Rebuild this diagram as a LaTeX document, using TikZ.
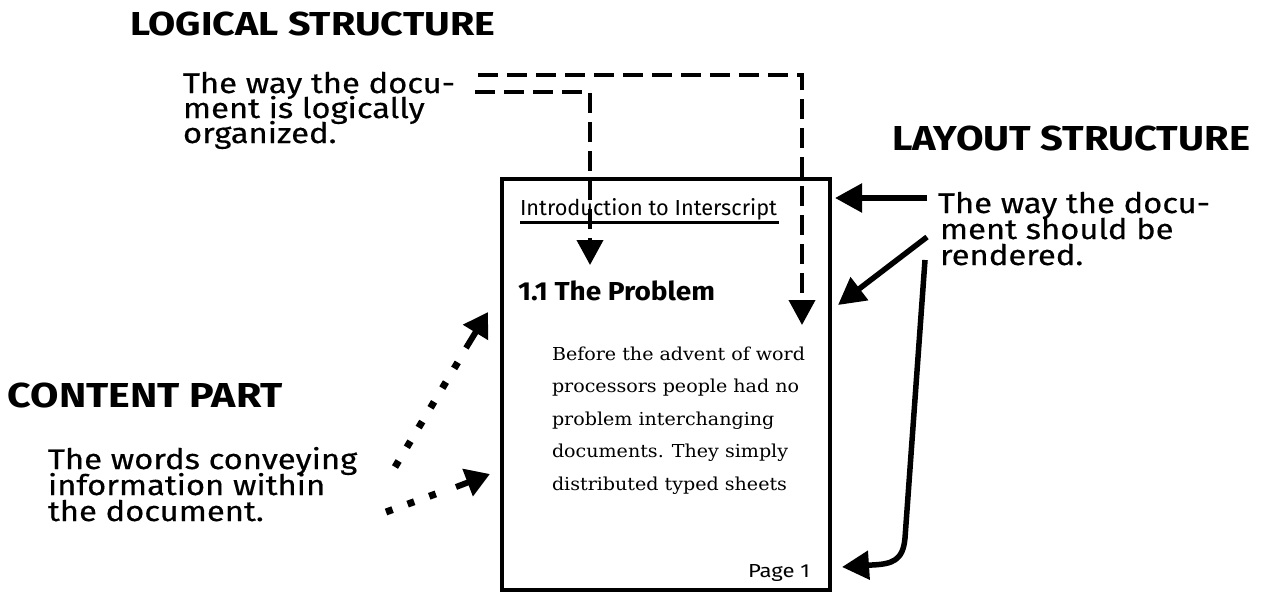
\documentclass[tikz,border=0pt]{standalone}
\usepackage{fontspec}
\setmainfont{Fira Sans}
\newfontfamily\serfont{DejaVu Serif}
\newfontfamily\dscfam[FakeBold=0.4]{Fira Sans}
\usetikzlibrary{arrows.meta}
\newlength\fitw
\newlength\fith
\newcommand\calcfit[6]{\settowidth\fitw{#3#4}\settoheight\fith{#3H}\pgfmathsetmacro#1{#5/\fitw}\pgfmathsetmacro#2{#6/\fith}}
\newcommand\ttlF{\fontsize{34}{34}\selectfont\bfseries}
\newcommand\dscF{\dscfam\fontsize{30}{30}\selectfont}
\newcommand\hdrF{\fontsize{22}{22}\selectfont}
\newcommand\secF{\fontsize{26}{26}\selectfont\bfseries}
\newcommand\bodyF{\serfont\fontsize{18}{18}\selectfont}
\newcommand\pgF{\fontsize{19}{19}\selectfont}
\newcommand\DL[1]{\scalebox{\sxd}[\syd]{\dscF #1}}
\newcommand\BL[1]{\scalebox{\sxb}[\syb]{\bodyF #1}}
\begin{document}%
\calcfit{\sxa}{\sya}{\ttlF}{LOGICAL STRUCTURE}{365}{23}%
\calcfit{\sxl}{\syl}{\ttlF}{LAYOUT STRUCTURE}{358}{24}%
\calcfit{\sxc}{\syc}{\ttlF}{CONTENT PART}{275}{24}%
\calcfit{\sxd}{\syd}{\dscF}{The way the docu-}{272}{19.5}%
\calcfit{\sxh}{\syh}{\hdrF}{Introduction to Interscript}{257}{15}%
\calcfit{\sxs}{\sys}{\secF}{1.1 The Problem}{197}{18}%
\calcfit{\sxb}{\syb}{\bodyF}{Before the advent of word}{253}{13}%
\calcfit{\sxp}{\syp}{\pgF}{Page 1}{62}{13}%
\begin{tikzpicture}[x=1pt,y=-1pt,
  txt/.style={inner sep=0pt,outer sep=0pt,anchor=base west},
  logic/.style={line width=4pt,dash pattern=on 20pt off 9pt,line join=miter,
    -{Triangle[length=25pt,width=26pt]}},
  layarr/.style={line width=5.5pt,line join=round,-{Triangle[length=27pt,width=28pt]}},
  dots/.style={line width=7pt,dash pattern=on 7pt off 16pt,line cap=butt},
  dotshead/.style={line width=6pt,-{Triangle[length=24pt,width=28pt]}}]
\useasboundingbox (0,0) rectangle (1263,594);
% titles
\node[txt] (tlog) at (130,36) {\scalebox{\sxa}[\sya]{\ttlF LOGICAL STRUCTURE}};
\node[txt] (tlay) at (892,150) {\scalebox{\sxl}[\syl]{\ttlF LAYOUT STRUCTURE}};
\node[txt] (tcon) at (8,407) {\scalebox{\sxc}[\syc]{\ttlF CONTENT PART}};
% descriptions
\node[txt] (lg1) at (183,93) {\DL{The way the docu-}};
\node[txt] (lg2) at (183,118) {\DL{ment is logically}};
\node[txt] (lg3) at (183,143) {\DL{organized.}};
\node[txt] (ly1) at (938,213) {\DL{The way the docu-}};
\node[txt] (ly2) at (940,239) {\DL{ment should be}};
\node[txt] (ly3) at (940,265) {\DL{rendered.}};
\node[txt] (ct1) at (48,469) {\DL{The words conveying}};
\node[txt] (ct2) at (48,495) {\DL{information within}};
\node[txt] (ct3) at (48,521) {\DL{the document.}};
% page
\node[draw,line width=4pt,inner sep=0pt,minimum width=328pt,minimum height=411pt,anchor=north west] (page) at (500,177) {};
\node[txt] (hdr) at (520,215) {\scalebox{\sxh}[\syh]{\hdrF Introduction to Interscript}};
\draw[line width=3pt] (520,222) -- (779,222);
\node[txt] (sec) at (518,300) {\scalebox{\sxs}[\sys]{\secF 1.1 The Problem}};
\node[txt] (b1) at (552,360) {\BL{Before the advent of word}};
\node[txt] (b2) at (552,392.5) {\BL{processors people had no}};
\node[txt] (b3) at (552,425) {\BL{problem interchanging}};
\node[txt] (b4) at (552,457.5) {\BL{documents. They simply}};
\node[txt] (b5) at (552,490) {\BL{distributed typed sheets}};
\node[inner sep=0pt,outer sep=0pt,anchor=base east] (pg) at (810,577) {\scalebox{\sxp}[\syp]{\pgF Page 1}};
% logical structure arrows
\coordinate (lsA) at (475,92);
\coordinate (lsB) at (478,75);
\coordinate (hA) at (590,265);
\coordinate (hB) at (802,325);
\draw[logic] (lsA) -| (hA);
\draw[logic] (lsB) -| (hB);
% layout structure arrows
\coordinate (la1) at (927,198);
\coordinate (la1t) at (835,198);
\coordinate (la2) at (927,237);
\coordinate (la2t) at (838,305);
\coordinate (la3) at (925,260);
\coordinate (la3t) at (842,567);
\draw[layarr] (la1) -- (la1t);
\draw[layarr] (la2) -- (la2t);
\draw[layarr] (la3) -- (905,538) .. controls (903,561) and (892,564) .. (872,565) -- (la3t);
% content part arrows
\coordinate (c1s) at (395,467);
\coordinate (c1m) at (458,362);
\coordinate (c1n) at (466,348);
\coordinate (c1t) at (488,312);
\draw[dots] (c1s) -- (c1m);
\draw[dotshead] (c1n) -- (c1t);
\coordinate (c2s) at (386,512);
\coordinate (c2m) at (441,492);
\coordinate (c2n) at (456,487);
\coordinate (c2t) at (490,474);
\draw[dots] (c2s) -- (c2m);
\draw[dotshead] (c2n) -- (c2t);
\end{tikzpicture}
\end{document}
